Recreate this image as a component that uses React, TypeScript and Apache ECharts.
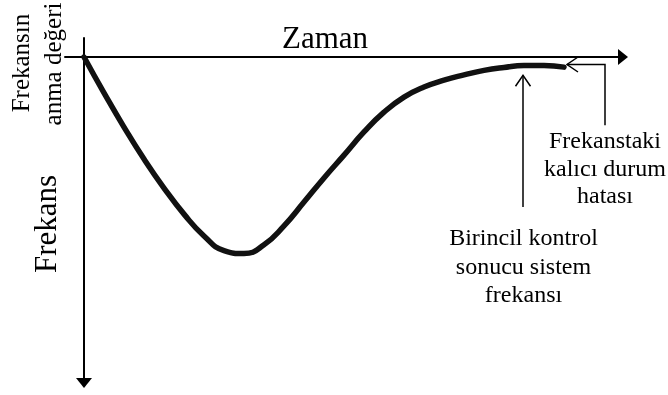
import React, { useEffect, useRef } from "react";
import * as echarts from "echarts";

// Time axis (arbitrary units) and frequency deviation from nominal (arbitrary units)
const timeValues = [0, 4, 8, 12, 16, 20, 24, 28, 32, 36, 40, 44, 48, 52, 56, 60, 64, 68, 72, 76, 80, 84, 88, 92, 96];
const frequencyValues = [0, -11.0, -21.5, -31.3, -40.2, -48.2, -54.9, -59.4, -60.3, -57.6, -51.8, -44.5, -37.1, -30.1, -23.0, -16.9, -12.3, -9.2, -7.1, -5.5, -4.1, -3.2, -2.6, -2.6, -3.1];

// Annotation arrows in data coordinates (tail ... tip)
const primaryArrow = [[87.8, -46.0], [87.8, -5.6]];
const steadyArrow = [[104.2, -20.9], [104.2, -2.3], [96.6, -2.3]];

const xTitle = "Zaman";
const yTitle = "Frekans";
const nominalLines = ["Frekansın", "anma değeri"];
const steadyLines = ["Frekanstaki", "kalıcı durum", "hatası"];
const primaryLines = ["Birincil kontrol", "sonucu sistem", "frekansı"];

const FONT = '"Liberation Serif", "Times New Roman", serif';

export default function App() {
  const ref = useRef<HTMLDivElement>(null);
  useEffect(() => {
    const chart = echarts.init(ref.current!, null, { renderer: "svg" });
    chart.setOption({
      animation: false,
      grid: { left: 65, right: 45, top: 38, bottom: 12, containLabel: false },
      xAxis: {
        type: "value",
        min: -3.8,
        max: 107.8,
        axisLine: {
          show: true,
          onZero: true,
          symbol: ["none", "triangle"],
          symbolSize: [16, 10],
          lineStyle: { color: "#000", width: 2 },
        },
        axisTick: { show: false },
        axisLabel: { show: false },
        splitLine: { show: false },
      },
      yAxis: {
        type: "value",
        min: -100,
        max: 5.83,
        axisLine: {
          show: true,
          onZero: true,
          symbol: ["triangle", "none"],
          symbolSize: [16, 10],
          lineStyle: { color: "#000", width: 2 },
        },
        axisTick: { show: false },
        axisLabel: { show: false },
        splitLine: { show: false },
      },
      series: [
        {
          type: "line",
          data: timeValues.map((t, i) => [t, frequencyValues[i]]),
          smooth: true,
          showSymbol: false,
          lineStyle: { color: "#111", width: 5.5, cap: "round", join: "round" },
          z: 3,
        },
      ],
    });

    const toPx = (p: number[]) => chart.convertToPixel({ gridIndex: 0 }, p) as number[];
    const chevron = (tip: number[], from: number[], len = 11, half = 7.5) => {
      const dx = tip[0] - from[0];
      const dy = tip[1] - from[1];
      const d = Math.hypot(dx, dy) || 1;
      const ux = dx / d, uy = dy / d;
      const nx = -uy, ny = ux;
      return [
        [tip[0] - ux * len + nx * half, tip[1] - uy * len + ny * half],
        tip,
        [tip[0] - ux * len - nx * half, tip[1] - uy * len - ny * half],
      ];
    };
    const arrowGraphics = (pts: number[][]) => {
      const px = pts.map(toPx);
      const tip = px[px.length - 1];
      const prev = px[px.length - 2];
      const style = { stroke: "#000", lineWidth: 1.5, fill: "none" };
      return [
        { type: "polyline", silent: true, shape: { points: px }, style },
        { type: "polyline", silent: true, shape: { points: chevron(tip, prev) }, style },
      ];
    };

    const textEl = (text: string, x: number, y: number, size: number, rotation = 0) => ({
      type: "text",
      silent: true,
      x,
      y,
      rotation,
      style: {
        text,
        fontSize: size,
        fontFamily: FONT,
        fill: "#000",
        align: "center",
        verticalAlign: "middle",
      },
    });

    const graphics: any[] = [
      ...arrowGraphics(primaryArrow),
      ...arrowGraphics(steadyArrow),
      textEl(xTitle, 325, 37.5, 31),
      textEl(yTitle, 45, 224, 31, Math.PI / 2),
      textEl(nominalLines[0], 20, 63, 25, Math.PI / 2),
      textEl(nominalLines[1], 52, 64, 25, Math.PI / 2),
      ...steadyLines.map((s, i) => textEl(s, 605, 140 + i * 27.5, 24)),
      ...primaryLines.map((s, i) => textEl(s, 523.5, 237 + i * 28.5, 24)),
    ];
    chart.setOption({ graphic: graphics });

    return () => chart.dispose();
  }, []);
  return <div ref={ref} style={{ position: "fixed", left: 0, top: 0, width: 668, height: 395 }} />;
}
